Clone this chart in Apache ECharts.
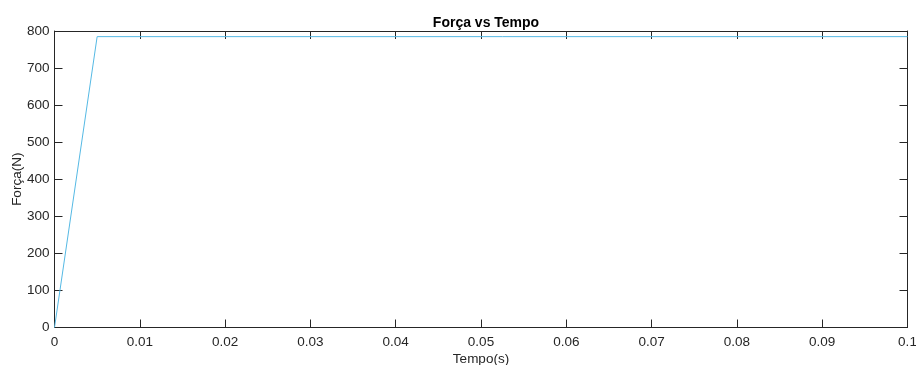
<!DOCTYPE html>
<html>
<head>
<meta charset="utf-8">
<script src="https://cdn.jsdelivr.net/npm/echarts@6/dist/echarts.min.js"></script>
<style>html,body{margin:0;padding:0;background:#fff;}#c{width:916px;height:365px;}</style>
</head>
<body>
<div id="c"></div>
<script>
const tempo = [0, 0.005, 0.1];
const forca = [0, 784.8, 784.8];
const titleText = 'Força vs Tempo';
const xName = 'Tempo(s)';
const yName = 'Força(N)';

const chart = echarts.init(document.getElementById('c'), null, {renderer: 'canvas'});
const axisColor = '#262626';
const font = 'Liberation Sans, Arial, sans-serif';
const baseAxis = {
  axisLine: {show: true, onZero: false, lineStyle: {color: axisColor, width: 1}},
  axisTick: {show: true, inside: true, length: 8, lineStyle: {color: axisColor, width: 1}},
  splitLine: {show: false},
  axisLabel: {color: axisColor, fontSize: 13.5, fontFamily: font}
};
chart.setOption({
  animation: false,
  backgroundColor: '#fff',
  title: {
    text: titleText, left: 481, top: 11, textAlign: 'center',
    textStyle: {fontSize: 14, fontWeight: 'bold', color: '#000', fontFamily: font}
  },
  grid: {left: 54.5, top: 31, right: 8.5, bottom: 37.5, containLabel: false, outerBoundsMode: 'none'},
  xAxis: [
    Object.assign({}, baseAxis, {
      type: 'value', min: 0, max: 0.1, interval: 0.01, position: 'bottom',
      name: xName, nameLocation: 'middle', nameGap: 25, nameMoveOverlap: false,
      nameTextStyle: {color: axisColor, fontSize: 13.5, fontFamily: font},
      axisLabel: Object.assign({}, baseAxis.axisLabel, {margin: 8, formatter: v => String(+v.toFixed(2))})
    }),
    Object.assign({}, baseAxis, {
      type: 'value', min: 0, max: 0.1, interval: 0.01, position: 'top',
      axisLabel: {show: false}
    })
  ],
  yAxis: [
    Object.assign({}, baseAxis, {
      type: 'value', min: 0, max: 800, interval: 100, position: 'left',
      name: yName, nameLocation: 'middle', nameGap: 30, nameRotate: 90, nameMoveOverlap: false,
      nameTextStyle: {color: axisColor, fontSize: 13.5, fontFamily: font},
      axisLabel: Object.assign({}, baseAxis.axisLabel, {margin: 5})
    }),
    Object.assign({}, baseAxis, {
      type: 'value', min: 0, max: 800, interval: 100, position: 'right',
      axisLabel: {show: false}
    })
  ],
  series: [{
    type: 'line',
    data: tempo.map((t, i) => [t, forca[i]]),
    showSymbol: false,
    lineStyle: {color: '#55B9E4', width: 1},
    itemStyle: {color: '#55B9E4'}
  }]
});
</script>
</body>
</html>
